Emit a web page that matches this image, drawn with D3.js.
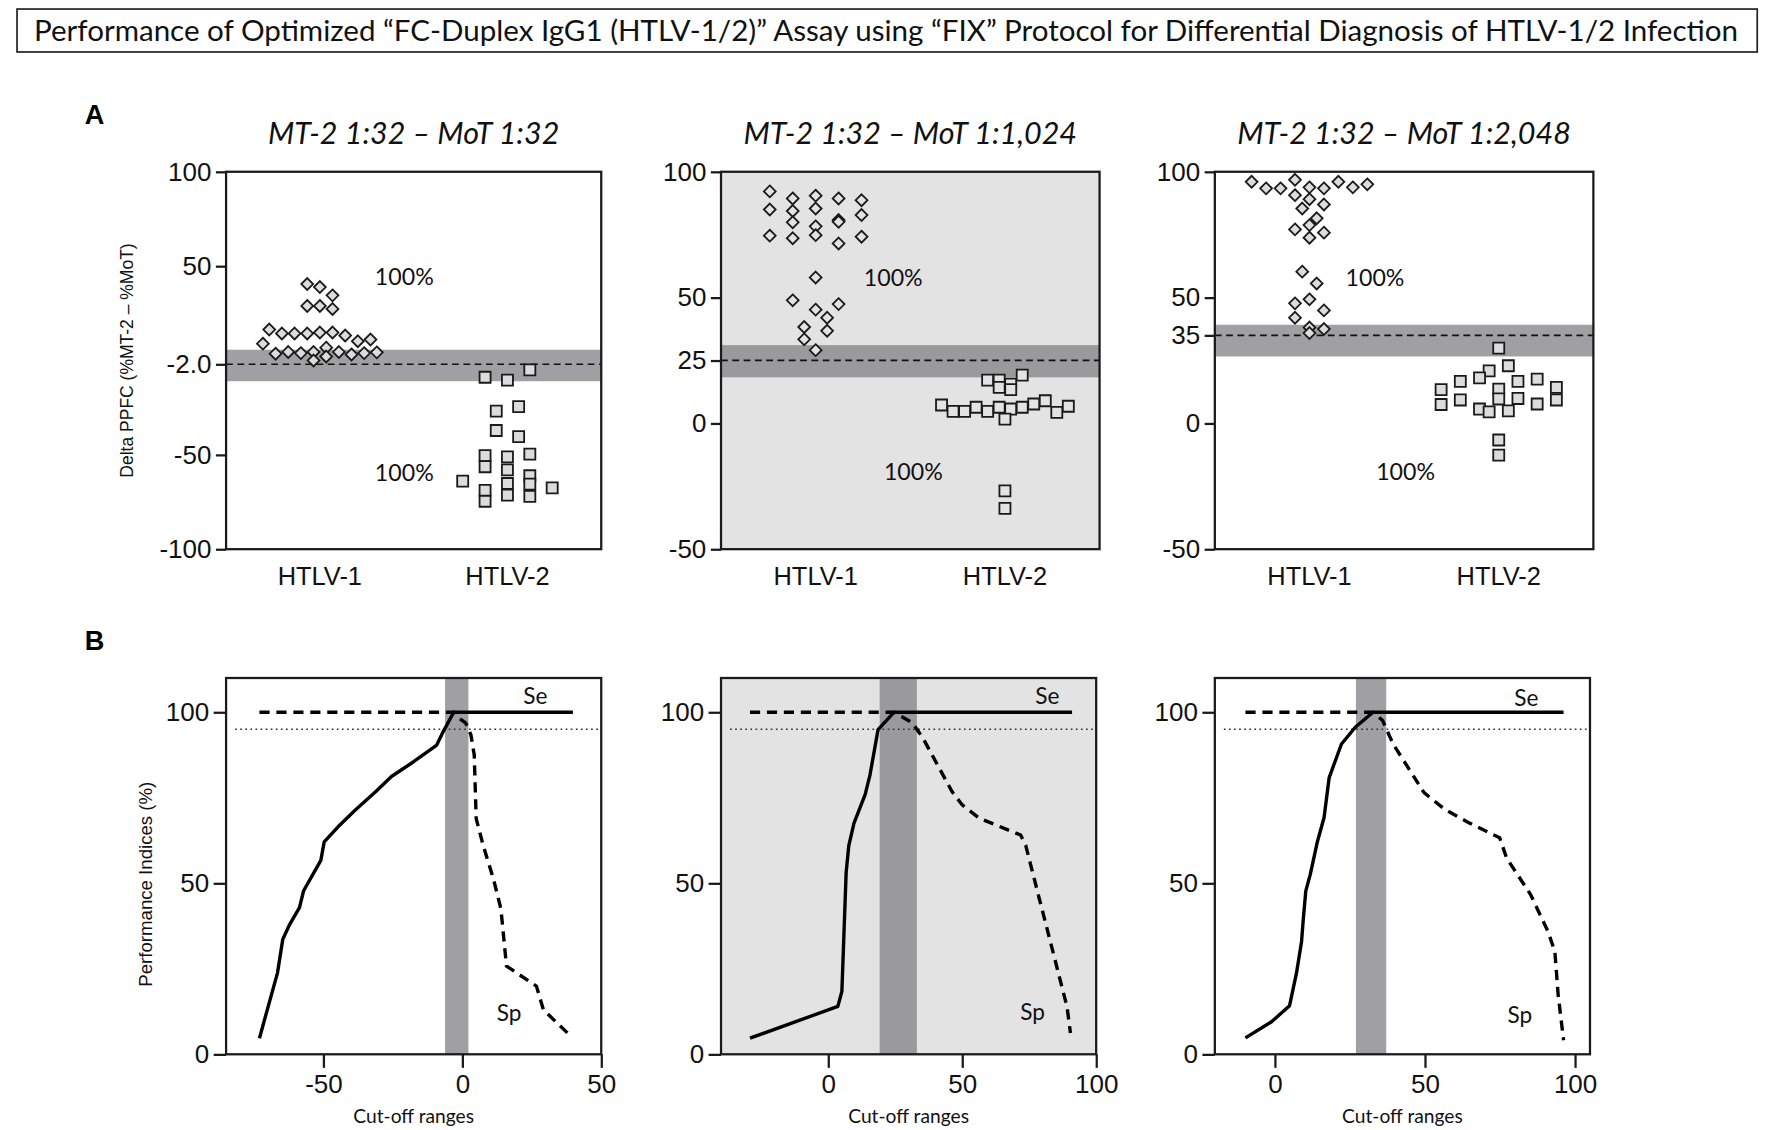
<!DOCTYPE html>
<html>
<head>
<meta charset="utf-8">
<script src="https://cdn.jsdelivr.net/npm/d3@7"></script>
<style>
  html, body { margin: 0; padding: 0; background: #fff; }
  svg { display: block; }
</style>
</head>
<body>
<div id="fig"></div>
<script>

/* DATA ============================================================ */

const figTitle = "Performance of Optimized \u201CFC-Duplex IgG1 (HTLV-1/2)\u201D Assay using \u201CFIX\u201D Protocol for Differential Diagnosis of HTLV-1/2 Infection";

const groups = ["HTLV-1", "HTLV-2"];
const titlesA = ["MT-2 1:32 \u2013 MoT 1:32", "MT-2 1:32 \u2013 MoT 1:1,024", "MT-2 1:32 \u2013 MoT 1:2,048"];
const yDomainA = [[-100, 100], [-50, 100], [-50, 100]];
const yTickA = [[100, 50, -2, -50, -100], [100, 50, 25, 0, -50], [100, 50, 35, 0, -50]];
const cutoffA = [-2, 25, 35];
const bandA = [[-11, 5.7], [18.3, 31.1], [26.6, 39.2]];
const pctLabel = "100%";

// delta PPFC per sample, HTLV-1 group
const htlv1A = [
  [40.5, 38.9, 34.5, 28.9, 28.9, 27.3, 16.4, 14.3, 14.3, 14.3, 14.8, 14.8, 13.2, 10.2,
   8.9, 11.1, 3.6, 4.5, 3.9, 4.5, 6.8, 0, 4.5, 3.2, 3.9, 2.1, 4.3],
  [92.2, 85.0, 79.9, 74.6, 89.4, 84.4, 73.6, 48.9, 38.3, 90.5, 85.4, 80.8, 74.8, 58.0,
   45.2, 33.4, 29.1, 89.4, 82.8, 78.3, 71.5, 47.4, 42.0, 36.8, 88.7, 80.1, 74.2],
  [96.0, 93.4, 93.4, 96.8, 93.8, 93.4, 96.0, 93.8, 95.0, 90.7, 89.1, 87.0, 85.4, 81.5,
   77.1, 78.8, 75.8, 73.8, 60.3, 55.6, 47.7, 49.3, 44.9, 42.0, 38.1, 37.5, 35.9]
];
// delta PPFC per sample, HTLV-2 group
const htlv2A = [
  [-8.9, -10.4, -5.0, -26.8, -24.5, -37.1, -40.4, -50.4, -56.3, -51.1, -49.6, -58.0,
   -63.9, -68.8, -74.6, -65.2, -71.4, -65.5, -72.0, -61.1, -67.5],
  [7.3, 4.8, 4.8, 6.4, 4.8, 6.4, 1.7, 5.7, 6.4, 7.7, 9.0, 4.4, 6.8, 17.2, 17.2, 15.6,
   14.3, 19.2, 13.4, -26.8, -33.8],
  [29.9, 13.4, 7.5, 20.9, 16.7, 9.3, 18.1, 13.6, 5.7, 16.7, 9.7, 4.6, 17.6, 9.9, 5.0,
   22.9, 7.7, 14.3, 9.3, -6.6, -12.6]
];

const xDomainB = [[-85, 50], [-40, 100], [-20, 105]];
const xTickB = [[-50, 0, 50], [0, 50, 100], [0, 50, 100]];
const yDomainB = [0, 110];
const yTickB = [0, 50, 100];
const bandB = [[-6.2, 2.2], [19.2, 33.1], [27, 37.1]];
const targetB = 95;

// [cut-off, sensitivity %]
const seB = [
  [[-73.0, 4.7], [-66.5, 23.8], [-64.6, 33.6], [-62.1, 38.0], [-58.6, 42.9], [-57.1, 47.8],
   [-50.9, 56.7], [-49.7, 62.1], [-44.7, 66.5], [-38.5, 71.4], [-31.1, 76.8], [-25.5, 81.2],
   [-17.4, 85.6], [-9.3, 90.3], [-6.8, 94.4], [-3.1, 100], [39.8, 100]],
  [[-29.2, 4.7], [3.6, 14.0], [5.1, 18.4], [6.7, 53.2], [7.7, 61.1], [9.6, 67.5],
   [13.8, 76.0], [15.6, 81.7], [18.6, 94.9], [24.6, 100], [91.0, 100]],
  [[-9.8, 4.8], [-1.1, 9.5], [4.9, 14.2], [7.2, 23.7], [8.9, 33.0], [9.5, 39.8], [10.3, 47.7],
   [11.8, 52.6], [14.1, 61.9], [16.4, 69.2], [18.1, 80.9], [22.2, 90.7], [26.8, 95.6],
   [32.7, 100], [96.2, 100]]
];
// [cut-off, specificity %]
const spB = [
  [[-73, 100], [-3.1, 100], [-1.2, 98.3], [1.2, 96.9], [3.1, 93.4], [4.3, 87.5], [5.0, 68.9],
   [7.5, 61.1], [11.2, 51.3], [13.9, 42.5], [15.9, 25.8], [26.7, 19.9], [29.2, 13.0], [37.9, 6.2]],
  [[-29.2, 100], [24.6, 100], [31.4, 96.9], [35.3, 92.5], [46.2, 76.8], [50, 72.9], [56.4, 69.0],
   [71.8, 64.1], [73.7, 61.1], [78.8, 45.4], [80.1, 41.5], [87.8, 17.9], [89.1, 14.0], [90.4, 6.2]],
  [[-9.8, 100], [32.7, 100], [35.9, 97.6], [39.4, 90.7], [49.7, 76.5], [56.6, 71.6], [64.6, 67.7],
   [74.9, 63.3], [77.2, 57.4], [85.2, 46.7], [91.0, 35.9], [93.3, 30.0], [94.4, 17.3], [96.2, 4.1]]
];


/* LAYOUT ========================================================== */

const W = 1568, H = 1000;
const frameA = [[200, 532], [638, 973], [1075, 1410]];
const yA = [152, 486];
const frameB = [[200, 532], [638, 970], [1075, 1407]];
const yB = [600, 933];
const shaded = [false, true, false];

// column spacing of the dot rows [diamonds, squares]
const slotA = [[11.2, 19.8], [20.3, 10.2], [12.8, 17]];
// where the "100%" notes sit: [fraction of width, value]
const pctPos = [[[0.475, 44.7], [0.475, -58.9]], [[0.455, 58], [0.508, -18.8]], [[0.423, 58], [0.504, -18.8]]];
// Se / Sp labels in data units
const sePos = [[26.3, 105], [81.8, 105], [83.8, 104.2]];
const spPos = [[16.8, 12.1], [76.3, 12.4], [81.6, 11.6]];

const SANS = "'Liberation Sans', Arial, sans-serif";
const HUM = "Lato, 'Open Sans', sans-serif";
const bgGray = "#e3e3e3";
const bandGray = "#a0a0a4";

const svg = d3.select("#fig")
  .append("svg")
  .attr("width", 1772)
  .attr("height", 1130)
  .attr("viewBox", `0 0 ${W} ${H}`);

svg.append("rect").attr("width", W).attr("height", H).attr("fill", "#fff");

// TITLE BOX
svg.append("rect")
  .attr("x", 15).attr("y", 8)
  .attr("width", 1540).attr("height", 38)
  .attr("fill", "none")
  .attr("stroke", "#222")
  .attr("stroke-width", 1.5);

svg.append("text")
  .attr("x", 30).attr("y", 36)
  .attr("textLength", 1508)
  .attr("lengthAdjust", "spacingAndGlyphs")
  .style("font-family", HUM)
  .style("font-size", "26px")
  .attr("fill", "#111")
  .text(figTitle);

// panel letters
svg.selectAll(".letter")
  .data([["A", 110], ["B", 575]])
  .join("text")
  .attr("class", "letter")
  .attr("x", 75).attr("y", d => d[1])
  .style("font-family", SANS)
  .style("font-weight", "bold")
  .style("font-size", "24px")
  .text(d => d[0]);


// prism-like column scatter: values close together share a row,
// each row spread evenly about the group centre (kept in sample order)
function swarm(values, yScale, slotW, rowH) {
  const rows = [];
  values.map((v, k) => ({ v, k }))
    .sort((a, b) => b.v - a.v)
    .forEach(p => {
      const row = rows[rows.length - 1];
      if (row && yScale(p.v) - yScale(row[0].v) < rowH) row.push(p);
      else rows.push([p]);
    });
  return rows.flatMap(row => {
    const ordered = row.slice().sort((a, b) => a.k - b.k);
    return ordered.map((p, j) => ({ value: p.v, dx: (j - (row.length - 1) / 2) * slotW }));
  });
}


// PANEL A ===========================================================
function drawA(i) {
  const [x0, x1] = frameA[i];
  const g = svg.append("g");

  const y = d3.scaleLinear().domain(yDomainA[i]).range([yA[1], yA[0]]);
  const x = d3.scalePoint().domain(groups).range([x0, x1]).padding(0.5);
  const xf = d3.scaleLinear().domain([0, 1]).range([x0, x1]);

  if (shaded[i]) {
    g.append("rect")
      .attr("x", x0).attr("y", yA[0])
      .attr("width", x1 - x0).attr("height", yA[1] - yA[0])
      .attr("fill", bgGray);
  }

  // cut-off grey zone
  g.append("rect")
    .attr("x", x0).attr("width", x1 - x0)
    .attr("y", y(bandA[i][1]))
    .attr("height", y(bandA[i][0]) - y(bandA[i][1]))
    .attr("fill", shaded[i] ? "#9a9a9e" : bandGray);

  g.append("line")
    .attr("x1", x0).attr("x2", x1)
    .attr("y1", y(cutoffA[i])).attr("y2", y(cutoffA[i]))
    .attr("stroke", "#111")
    .attr("stroke-width", 1.5)
    .attr("stroke-dasharray", "6,4");

  const dotFill = shaded[i] ? bgGray : "#dcdcdc";

  // HTLV-1 diamonds
  g.selectAll(".dia")
    .data(swarm(htlv1A[i], y, slotA[i][0], 10.5))
    .join("path")
    .attr("class", "dia")
    .attr("d", d3.symbol(d3.symbolDiamond2, 70))
    .attr("transform", d => `translate(${x(groups[0]) + d.dx},${y(d.value)})`)
    .attr("fill", dotFill)
    .attr("stroke", "#1a1a1a")
    .attr("stroke-width", 1.6);

  // HTLV-2 squares
  g.selectAll(".sq")
    .data(swarm(htlv2A[i], y, slotA[i][1], 10.5))
    .join("path")
    .attr("class", "sq")
    .attr("d", d3.symbol(d3.symbolSquare, 95))
    .attr("transform", d => `translate(${x(groups[1]) + d.dx},${y(d.value)})`)
    .attr("fill", dotFill)
    .attr("stroke", "#1a1a1a")
    .attr("stroke-width", 1.6);

  // 100% notes
  g.selectAll(".pct")
    .data(pctPos[i])
    .join("text")
    .attr("x", d => xf(d[0]))
    .attr("y", d => y(d[1]))
    .attr("text-anchor", "middle")
    .attr("dominant-baseline", "central")
    .style("font-family", HUM)
    .style("font-size", "20.5px")
    .attr("fill", "#111")
    .text(pctLabel);

  // frame
  g.append("rect")
    .attr("x", x0).attr("y", yA[0])
    .attr("width", x1 - x0).attr("height", yA[1] - yA[0])
    .attr("fill", "none")
    .attr("stroke", "#1a1a1a")
    .attr("stroke-width", 2);

  // y axis
  g.append("g")
    .attr("transform", `translate(${x0},0)`)
    .call(d3.axisLeft(y)
      .tickValues(yTickA[i])
      .tickSize(9)
      .tickPadding(4)
      .tickFormat(d => d === -2 ? "-2.0" : String(d)))
    .call(a => a.select(".domain").remove())
    .call(a => a.selectAll("line").attr("stroke", "#1a1a1a").attr("stroke-width", 2))
    .call(a => a.selectAll("text")
      .style("font-family", SANS)
      .style("font-size", "23px")
      .attr("fill", "#111"));

  // category labels
  g.selectAll(".cat")
    .data(groups)
    .join("text")
    .attr("x", d => x(d))
    .attr("y", 518)
    .attr("text-anchor", "middle")
    .style("font-family", SANS)
    .style("font-size", "22.5px")
    .attr("fill", "#111")
    .text(d => d);

  // panel title
  g.append("text")
    .attr("x", (x0 + x1) / 2)
    .attr("y", 127)
    .attr("text-anchor", "middle")
    .style("font-family", HUM)
    .style("font-style", "italic")
    .style("font-size", "27px")
    .attr("fill", "#111")
    .text(titlesA[i]);

  if (i === 0) {
    g.append("text")
      .attr("transform", `translate(118,${(yA[0] + yA[1]) / 2}) rotate(-90)`)
      .attr("text-anchor", "middle")
      .style("font-family", SANS)
      .style("font-size", "15.5px")
      .attr("fill", "#111")
      .text("Delta PPFC (%MT-2 \u2013 %MoT)");
  }
}


// PANEL B ===========================================================
function drawB(i) {
  const [x0, x1] = frameB[i];
  const g = svg.append("g");

  const x = d3.scaleLinear().domain(xDomainB[i]).range([x0, x1]);
  const y = d3.scaleLinear().domain(yDomainB).range([yB[1], yB[0]]);

  if (shaded[i]) {
    g.append("rect")
      .attr("x", x0).attr("y", yB[0])
      .attr("width", x1 - x0).attr("height", yB[1] - yB[0])
      .attr("fill", bgGray);
  }

  g.append("rect")
    .attr("x", x(bandB[i][0]))
    .attr("width", x(bandB[i][1]) - x(bandB[i][0]))
    .attr("y", yB[0]).attr("height", yB[1] - yB[0])
    .attr("fill", shaded[i] ? "#9a9a9e" : bandGray);

  g.append("line")
    .attr("x1", x0 + 8).attr("x2", x1)
    .attr("y1", y(targetB)).attr("y2", y(targetB))
    .attr("stroke", "#333")
    .attr("stroke-width", 1.3)
    .attr("stroke-dasharray", "1.5,3");

  const line = d3.line().x(d => x(d[0])).y(d => y(d[1]));

  g.append("path")
    .attr("d", line(seB[i]))
    .attr("fill", "none")
    .attr("stroke", "#000")
    .attr("stroke-width", 3)
    .attr("stroke-linejoin", "round");

  g.append("path")
    .attr("d", line(spB[i]))
    .attr("fill", "none")
    .attr("stroke", "#000")
    .attr("stroke-width", 3)
    .attr("stroke-dasharray", "9,6");

  g.append("text")
    .attr("x", x(sePos[i][0])).attr("y", y(sePos[i][1]))
    .attr("text-anchor", "middle").attr("dominant-baseline", "central")
    .style("font-family", HUM).style("font-size", "20px")
    .attr("fill", "#111")
    .text("Se");

  g.append("text")
    .attr("x", x(spPos[i][0])).attr("y", y(spPos[i][1]))
    .attr("text-anchor", "middle").attr("dominant-baseline", "central")
    .style("font-family", HUM).style("font-size", "20px")
    .attr("fill", "#111")
    .text("Sp");

  g.append("rect")
    .attr("x", x0).attr("y", yB[0])
    .attr("width", x1 - x0).attr("height", yB[1] - yB[0])
    .attr("fill", "none")
    .attr("stroke", "#1a1a1a")
    .attr("stroke-width", 2);

  const styleAxis = a => {
    a.select(".domain").remove();
    a.selectAll("line").attr("stroke", "#1a1a1a").attr("stroke-width", 2);
    a.selectAll("text")
      .style("font-family", SANS)
      .style("font-size", "23px")
      .attr("fill", "#111");
  };

  g.append("g")
    .attr("transform", `translate(${x0},0)`)
    .call(d3.axisLeft(y).tickValues(yTickB).tickSize(11).tickPadding(4).tickFormat(d => String(d)))
    .call(styleAxis);

  g.append("g")
    .attr("transform", `translate(0,${yB[1]})`)
    .call(d3.axisBottom(x).tickValues(xTickB[i]).tickSize(12).tickPadding(6).tickFormat(d => String(d)))
    .call(styleAxis);

  g.append("text")
    .attr("x", (x0 + x1) / 2)
    .attr("y", 994)
    .attr("text-anchor", "middle")
    .style("font-family", HUM)
    .style("font-size", "17px")
    .attr("fill", "#111")
    .text("Cut-off ranges");

  if (i === 0) {
    g.append("text")
      .attr("transform", `translate(134,${(yB[0] + yB[1]) / 2 + 16}) rotate(-90)`)
      .attr("text-anchor", "middle")
      .style("font-family", SANS)
      .style("font-size", "16.5px")
      .attr("fill", "#111")
      .text("Performance Indices (%)");
  }
}

[0, 1, 2].forEach(drawA);
[0, 1, 2].forEach(drawB);

</script>
</body>
</html>
